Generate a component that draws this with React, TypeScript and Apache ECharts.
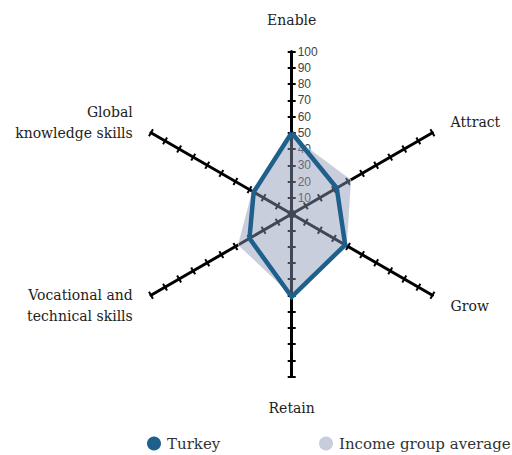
import React, { useEffect, useRef } from "react";
import * as echarts from "echarts";

// Indicators in ECharts order (counter-clockwise from top)
const indicatorNames = [
  "Enable",
  "Global\nknowledge skills",
  "Vocational and\ntechnical skills",
  "Retain",
  "Grow",
  "Attract",
];
const turkeyValues = [50, 27, 30, 51, 38, 32];
const incomeValues = [48, 28, 38, 50, 39, 42];
const seriesNames = ["Turkey", "Income group average"];
const axisMax = 100;

const CENTER = [291.7, 214];
const RADIUS = 162.5;

export default function App() {
  const ref = useRef<HTMLDivElement>(null);
  useEffect(() => {
    if (!ref.current) return;
    const chart = echarts.init(ref.current, undefined, { renderer: "svg" });
    const baseRadar = {
      center: CENTER,
      radius: RADIUS,
      startAngle: 90,
      splitNumber: 10,
      shape: "polygon",
      splitLine: { show: false },
      splitArea: { show: false },
    };
    const legendText = { fontFamily: "DejaVu Serif", fontSize: 15, color: "#333" };
    chart.setOption({
      animation: false,
      backgroundColor: "#ffffff",
      radar: [
        {
          ...baseRadar,
          indicator: indicatorNames.map((n, i) =>
            i === 0
              ? { name: n, max: axisMax, min: 0, axisLabel: { show: true } }
              : { name: n, max: axisMax, min: 0 }
          ),
          nameGap: 21,
          axisName: {
            color: "#222",
            fontFamily: "DejaVu Serif",
            fontSize: 14,
            lineHeight: 21,
          },
          axisLine: { show: true, lineStyle: { color: "#000", width: 3 } },
          axisTick: { show: true, length: 4, lineStyle: { color: "#000", width: 2 } },
          axisLabel: {
            show: false,
            margin: -6,
            align: "left",
            verticalAlign: "middle",
            showMinLabel: false,
            color: "#444",
            fontFamily: "Liberation Sans",
            fontSize: 12,
          },
        },
        {
          ...baseRadar,
          indicator: indicatorNames.map(() => ({ name: "", max: axisMax, min: 0 })),
          axisName: { show: false },
          axisLine: { show: false },
          axisTick: { show: true, length: -4, lineStyle: { color: "#000", width: 2 } },
          axisLabel: { show: false },
        },
      ],
      legend: [
        {
          data: [seriesNames[0]],
          left: 142,
          top: 431,
          icon: "circle",
          itemWidth: 16,
          itemHeight: 14,
          textStyle: legendText,
        },
        {
          data: [seriesNames[1]],
          left: 314,
          top: 431,
          icon: "circle",
          itemWidth: 16,
          itemHeight: 14,
          textStyle: legendText,
        },
      ],
      series: [
        {
          type: "radar",
          radarIndex: 0,
          symbol: "none",
          data: [
            {
              name: seriesNames[1],
              value: incomeValues,
              itemStyle: { color: "#c8cddb" },
              lineStyle: { color: "rgba(235,238,245,0.8)", width: 1 },
              areaStyle: { color: "rgba(140,150,180,0.47)", opacity: 1 },
            },
            {
              name: seriesNames[0],
              value: turkeyValues,
              itemStyle: { color: "#1f5f8b" },
              lineStyle: { color: "#1f5f8b", width: 4.5, join: "miter" },
            },
          ],
        },
      ],
    });
    return () => chart.dispose();
  }, []);
  return (
    <div
      ref={ref}
      style={{ position: "fixed", left: 0, top: 0, width: 512, height: 455, background: "#fff" }}
    />
  );
}
